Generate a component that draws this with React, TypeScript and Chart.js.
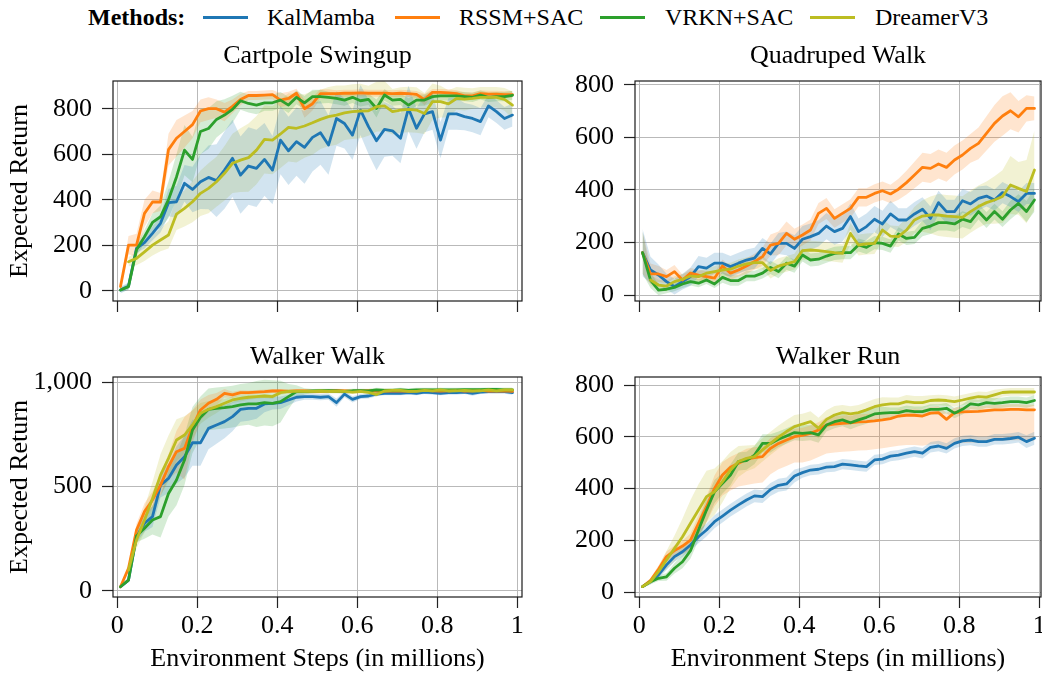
import React, { useEffect, useRef } from 'react';
import { Chart, registerables } from 'chart.js';

Chart.register(...registerables);

const FONT = "'Liberation Serif', 'Times New Roman', Times, serif";

// ---------- data ----------
const steps = [0.008,0.028,0.048,0.068,0.088,0.108,0.128,0.148,0.168,0.188,0.208,0.228,0.248,0.268,0.288,0.308,0.328,0.348,0.368,0.388,0.408,0.428,0.448,0.468,0.488,0.508,0.528,0.548,0.568,0.588,0.608,0.628,0.648,0.668,0.688,0.708,0.728,0.748,0.768,0.788,0.808,0.828,0.848,0.868,0.888,0.908,0.928,0.948,0.968,0.988];
const xTicks = [0, 0.2, 0.4, 0.6, 0.8, 1];
const xTickLabels = ['0', '0.2', '0.4', '0.6', '0.8', '1'];

const methods = ['KalMamba', 'RSSM+SAC', 'VRKN+SAC', 'DreamerV3'];
const colors = ['#1f77b4', '#ff7f0e', '#2ca02c', '#bcbd22'];

// Cartpole Swingup
const cartKal = [3,20,186,211,252,296,387,391,472,445, 479,498,484,530,582,508,548,538,577,530, 662,615,655,630,674,694,640,757,735,684, 794,721,659,709,703,670,801,714,777,787, 662,777,777,765,757,743,812,787,757,772];
const cartRssm = [18,200,200,340,390,390,620,670,700,730, 790,800,800,785,810,840,858,858,860,862, 838,845,868,800,822,866,866,866,868,868, 870,868,868,868,866,868,866,863,840,872, 872,870,866,856,856,866,864,864,862,862];
const cartVrkn = [3,18,180,237,300,325,400,500,618,577, 700,713,753,772,797,835,823,816,826,826, 838,816,850,826,853,853,850,845,838,850, 835,841,801,860,838,841,816,838,838,853, 856,856,856,853,850,860,850,853,853,859];
const cartDrm = [null,127,142,171,200,223,245,337,362,391, 428,450,479,516,560,574,585,618,665,662, 689,718,714,724,738,753,765,772,782,787, 790,791,809,812,787,794,797,794,779,831, 831,821,845,842,845,850,850,850,841,816];
const cartKalSd = [15,15,20,25,30,40,60,70,80,100, 120,140,160,170,170,170,170,170,160,150, 150,150,150,160,150,140,130,120,110,110, 110,120,130,120,110,110,100,90,80,80, 80,70,70,60,60,60,50,50,50,50];
const cartRssmSd = [10,40,50,60,50,40,70,80,70,60, 50,50,40,40,30,25,20,20,20,20, 30,30,20,40,30,20,20,15,15,15, 15,15,15,15,15,15,15,15,25,15, 15,15,15,15,15,15,15,15,15,15];
const cartVrknSd = [10,15,25,30,40,50,80,100,110,100, 100,90,80,70,60,40,40,40,35,35, 35,35,30,30,30,30,25,25,25,25, 25,25,40,25,25,25,30,25,25,25, 20,20,20,20,20,20,20,20,20,20];
const cartDrmSd = [0,20,30,40,45,50,60,70,80,90, 100,110,110,120,130,140,150,150,150,150, 150,150,150,140,140,130,130,130,120,120, 120,110,110,110,100,100,100,100,90,80, 70,60,50,50,45,45,45,45,50,60];

// Quadruped Walk
const quadKal = [162,96,77,52,33,52,71,109,103,122, 122,109,122,134,141,178,157,197,197,178, 213,223,235,263,242,254,299,242,261,289, 271,309,286,286,309,327,292,352,318,318, 359,347,368,377,362,390,375,356,387,387];
const quadRssm = [162,81,81,71,90,58,84,77,71,65, 111,84,96,111,128,147,191,197,235,213, 229,248,311,330,292,311,330,372,372,387, 397,385,403,428,457,486,482,499,486,514, 533,558,577,615,653,681,701,678,710,710];
const quadVrkn = [162,58,20,23,30,43,52,46,58,43, 68,56,56,73,73,84,106,90,122,111, 153,134,137,149,159,162,162,191,182,200, 197,187,233,216,220,254,263,276,276,271, 289,280,318,286,318,289,324,349,318,362];
const quadDrm = [null,58,39,35,52,61,73,71,84,90, 96,99,111,119,124,124,94,111,119,128, 170,172,170,166,162,159,235,191,195,197, 248,225,223,248,286,301,305,305,301,299, 296,318,337,352,362,375,419,406,394,476];
const quadKalSd = [90,50,40,30,30,30,35,40,40,40, 40,40,40,40,40,40,40,40,45,50, 50,50,50,50,50,50,50,50,50,50, 50,50,45,45,45,45,45,45,45,45, 45,45,45,40,40,40,40,40,40,40];
const quadRssmSd = [80,40,30,25,25,20,20,20,20,20, 25,25,25,30,30,35,40,45,45,40, 40,40,40,40,35,35,35,35,35,35, 35,35,40,45,50,55,55,55,55,55, 55,55,60,65,70,75,70,60,50,45];
const quadVrknSd = [80,30,20,15,15,15,15,15,15,15, 20,20,20,20,20,20,25,25,25,25, 25,25,25,25,25,25,25,25,25,25, 25,25,25,25,25,30,30,30,30,30, 30,30,30,30,30,30,35,35,40,45];
const quadDrmSd = [0,20,20,20,20,20,20,20,20,20, 25,25,25,25,25,25,30,30,30,30, 35,35,35,35,35,35,40,40,40,40, 40,40,40,45,50,60,70,80,80,80, 80,80,80,80,90,100,110,100,120,150];

// Walker Walk
const walkKal = [19,51,259,323,355,506,538,602,642,709, 709,778,794,810,834,869,874,874,895,898, 901,914,927,930,930,927,930,901,942,917, 930,933,942,946,946,946,949,946,952,949, 946,949,949,952,946,952,954,954,954,949];
const walkRssm = [19,107,291,379,435,506,594,666,682,786, 866,898,917,946,938,949,949,952,954,957, 957,955,957,957,955,955,957,958,957,955, 957,958,957,958,957,958,957,958,960,958, 957,958,960,957,958,960,957,956,958,955];
const walkVrkn = [19,51,262,299,339,355,466,530,626,770, 831,869,874,877,882,890,895,895,901,898, 906,930,954,955,957,958,958,957,955,958, 958,957,962,960,960,962,960,962,962,962, 962,962,962,963,963,963,964,964,962,962];
const walkDrm = [null,99,243,339,442,554,634,722,746,794, 850,869,882,898,914,922,927,930,933,930, 949,955,955,955,955,957,955,955,955,952, 955,950,940,957,960,960,955,955,960,958, 962,957,958,960,957,958,962,958,962,962];
const walkKalSd = [5,10,30,40,50,60,70,90,100,110, 110,100,90,80,70,60,60,50,40,30, 30,25,20,15,15,15,15,20,15,15, 12,12,10,10,10,10,10,10,10,10, 10,10,10,10,12,10,10,10,10,10];
const walkRssmSd = [5,15,30,40,40,50,60,100,150,80, 50,40,30,20,15,12,10,10,10,10, 10,10,10,10,10,10,10,10,10,10, 10,10,10,10,10,10,10,10,10,10, 10,10,10,10,10,10,10,10,10,10];
const walkVrknSd = [5,10,30,50,70,100,110,120,120,110, 100,100,100,100,100,100,100,110,110,110, 100,60,30,15,10,10,10,10,10,10, 10,10,10,10,10,10,10,10,10,10, 10,10,10,10,10,10,10,10,10,10];
const walkDrmSd = [0,20,40,60,80,100,110,100,90,70, 50,40,30,20,15,15,12,10,10,10, 10,10,10,10,10,10,10,10,10,10, 10,10,10,10,10,10,10,10,10,10, 10,10,10,10,10,10,10,10,10,10];

// Walker Run
const runKal = [21,40,66,105,137,156,182,214,240,272, 294,317,337,356,372,369,397,413,418,449, 462,472,475,483,485,495,492,488,485,511, 514,526,530,537,543,537,560,565,556,575, 585,588,582,582,591,591,594,599,582,595];
const runRssm = [21,44,88,137,160,178,201,266,330,401, 453,483,498,514,520,524,556,575,588,601, 606,614,627,646,650,653,655,658,659,662, 666,671,681,684,684,681,692,694,668,694, 697,698,699,702,705,705,707,707,705,705];
const runVrkn = [21,40,53,59,92,117,160,240,317,388, 421,453,505,508,530,575,575,591,604,617, 614,617,608,646,659,666,655,666,676,689, 692,694,694,702,698,698,707,707,711,692, 707,728,724,733,730,733,737,737,733,741];
const runDrm = [21,40,79,124,169,214,266,317,369,388, 427,472,505,517,524,550,575,599,621,640, 650,659,634,668,685,694,689,694,705,717, 724,728,728,737,733,733,741,743,741,737, 743,750,756,754,763,772,774,774,774,774];
const runKalSd = [5,10,15,20,20,20,20,25,25,25, 25,25,25,25,25,25,25,25,25,25, 20,20,20,20,20,20,20,20,20,20, 20,20,20,20,20,20,20,20,20,20, 20,20,20,20,20,20,20,20,25,25];
const runRssmUp = [5,10,15,20,20,20,25,30,40,50, 50,40,40,40,40,40,40,35,30,30, 30,30,30,30,30,30,30,30,30,30, 25,25,25,25,25,25,25,25,25,20, 20,20,20,20,20,20,20,20,20,20];
const runRssmDn = [5,10,15,20,25,30,40,50,60,70, 80,90,90,100,100,100,100,100,100,100, 105,105,105,110,110,110,110,110,110,110, 110,110,115,115,115,115,120,120,110,120, 120,120,120,120,120,120,120,120,120,120];
const runVrknSd = [5,10,10,15,20,25,30,40,45,45, 40,40,35,35,35,35,35,30,30,30, 30,30,30,25,25,25,25,25,25,25, 25,20,20,20,20,20,20,20,20,20, 20,20,20,20,20,20,20,20,20,20];
const runDrmSd = [5,10,20,35,50,70,90,100,100,90, 80,70,60,50,45,45,45,45,45,45, 40,40,40,35,35,30,30,30,30,30, 30,25,25,25,25,25,20,20,20,20, 20,20,20,20,20,15,15,15,15,15];

const yTicks800 = [0, 200, 400, 600, 800];
const yTickLabels800 = ['0', '200', '400', '600', '800'];
const yTicks1000 = [0, 500, 1000];
const yTickLabels1000 = ['0', '500', '1,000'];

type Val = number | null;
type Panel = {
  title: string;
  row: number;
  col: number;
  yMin: number;
  yMax: number;
  yTicks: number[];
  yTickLabels: string[];
  means: Val[][];
  dns: number[][];
  ups: number[][];
};

const panels: Panel[] = [
  { title: 'Cartpole Swingup', row: 0, col: 0, yMin: -45.3, yMax: 921.8, yTicks: yTicks800, yTickLabels: yTickLabels800,
    means: [cartKal, cartRssm, cartVrkn, cartDrm], dns: [cartKalSd, cartRssmSd, cartVrknSd, cartDrmSd], ups: [cartKalSd, cartRssmSd, cartVrknSd, cartDrmSd] },
  { title: 'Quadruped Walk', row: 0, col: 1, yMin: -21.7, yMax: 814, yTicks: yTicks800, yTickLabels: yTickLabels800,
    means: [quadKal, quadRssm, quadVrkn, quadDrm], dns: [quadKalSd, quadRssmSd, quadVrknSd, quadDrmSd], ups: [quadKalSd, quadRssmSd, quadVrknSd, quadDrmSd] },
  { title: 'Walker Walk', row: 1, col: 0, yMin: -30.2, yMax: 1024, yTicks: yTicks1000, yTickLabels: yTickLabels1000,
    means: [walkKal, walkRssm, walkVrkn, walkDrm], dns: [walkKalSd, walkRssmSd, walkVrknSd, walkDrmSd], ups: [walkKalSd, walkRssmSd, walkVrknSd, walkDrmSd] },
  { title: 'Walker Run', row: 1, col: 1, yMin: -19.3, yMax: 832, yTicks: yTicks800, yTickLabels: yTickLabels800,
    means: [runKal, runRssm, runVrkn, runDrm], dns: [runKalSd, runRssmDn, runVrknSd, runDrmSd], ups: [runKalSd, runRssmUp, runVrknSd, runDrmSd] },
];

// ---------- layout ----------
const FS = 26;
const COLS = [
  { x: 0, w: 530, yAxisW: 113, padR: 8, xMin: -0.01075, xMax: 1.0118 },
  { x: 530, w: 512, yAxisW: 105, padR: 1, xMin: -0.01075, xMax: 1.0043 },
];
const ROWS = [
  { y: 36, h: 285, xAxisH: 20, tTop: 4.9, tBot: 8.9 },
  { y: 336, h: 345, xAxisH: 84, tTop: 5.3, tBot: 4.5 },
];

function rgba(hex: string, a: number) {
  const n = parseInt(hex.slice(1), 16);
  return `rgba(${(n >> 16) & 255},${(n >> 8) & 255},${n & 255},${a})`;
}

const toPts = (vals: Val[]) => vals.map((v, i) => ({ x: steps[i], y: v }));

const framePlugin = {
  id: 'frame',
  afterDraw(chart: any) {
    const { ctx, chartArea: a } = chart;
    ctx.save();
    ctx.strokeStyle = '#1a1a1a';
    ctx.lineWidth = 1.2;
    ctx.strokeRect(a.left, a.top, a.right - a.left, a.bottom - a.top);
    ctx.restore();
  },
};

function makeConfig(p: Panel): any {
  const c = COLS[p.col];
  const r = ROWS[p.row];
  const showX = p.row === 1;
  const showYTitle = p.col === 0;
  const datasets: any[] = [];
  p.means.forEach((m, k) => {
    const lo = m.map((v, i) => (v == null ? null : v - p.dns[k][i]));
    const hi = m.map((v, i) => (v == null ? null : v + p.ups[k][i]));
    datasets.push({ data: toPts(lo), borderWidth: 0, borderColor: 'rgba(0,0,0,0)', pointRadius: 0, fill: false, order: 20 + k });
    datasets.push({ data: toPts(hi), borderWidth: 0, borderColor: 'rgba(0,0,0,0)', pointRadius: 0, fill: '-1', backgroundColor: rgba(colors[k], 0.2), order: 20 + k });
  });
  p.means.forEach((m, k) => {
    datasets.push({ label: methods[k], data: toPts(m), borderColor: colors[k], borderWidth: 2.8, pointRadius: 0, fill: false, order: 10 - k, borderJoinStyle: 'round', borderCapStyle: 'round' });
  });
  const font = { family: FONT, size: FS };
  return {
    type: 'line',
    data: { datasets },
    plugins: [framePlugin],
    options: {
      responsive: false,
      animation: false,
      devicePixelRatio: 1,
      events: [],
      spanGaps: false,
      elements: { line: { tension: 0 } },
      layout: { padding: { left: 0, right: c.padR, top: 0, bottom: 0 } },
      plugins: {
        legend: { display: false },
        tooltip: { enabled: false },
        title: { display: true, text: p.title, fullSize: false, color: '#000', font: { family: FONT, size: FS, weight: 'normal' }, padding: { top: r.tTop, bottom: r.tBot } },
      },
      scales: {
        x: {
          type: 'linear', min: c.xMin, max: c.xMax,
          afterBuildTicks: (s: any) => { s.ticks = xTicks.map((v) => ({ value: v })); },
          afterFit: (s: any) => { s.height = r.xAxisH; s.paddingLeft = 0; s.paddingRight = 0; },
          grid: { color: '#b9b9b9', lineWidth: 1, drawTicks: true, tickLength: 11, tickColor: '#222', tickWidth: 1.2 },
          border: { display: false },
          ticks: { display: showX, padding: 2.6, color: '#000', font, maxRotation: 0, autoSkip: false, callback: (_v: any, i: number) => xTickLabels[i] },
          title: { display: showX, text: 'Environment Steps (in millions)', color: '#000', font, padding: { top: 0, bottom: 5.9 } },
        },
        y: {
          type: 'linear', min: p.yMin, max: p.yMax,
          afterBuildTicks: (s: any) => { s.ticks = p.yTicks.map((v) => ({ value: v })); },
          afterFit: (s: any) => { s.width = c.yAxisW; s.paddingTop = 0; s.paddingBottom = 0; },
          grid: { color: '#b9b9b9', lineWidth: 1, drawTicks: true, tickLength: 11, tickColor: '#222', tickWidth: 1.2 },
          border: { display: false },
          ticks: { padding: 10, color: '#000', font, autoSkip: false, callback: (_v: any, i: number) => p.yTickLabels[i] },
          title: { display: showYTitle, text: 'Expected Return', color: '#000', font, padding: { top: 4.5, bottom: 0 } },
        },
      },
    },
  };
}

function PanelChart({ p }: { p: Panel }) {
  const ref = useRef<HTMLCanvasElement>(null);
  useEffect(() => {
    const chart = new Chart(ref.current as HTMLCanvasElement, makeConfig(p));
    return () => chart.destroy();
  }, [p]);
  const c = COLS[p.col];
  const r = ROWS[p.row];
  return (
    <canvas
      ref={ref}
      width={c.w}
      height={r.h}
      style={{ position: 'absolute', left: c.x, top: r.y, width: c.w, height: r.h, display: 'block' }}
    />
  );
}

const legendPos = [
  { line: 203, text: 267 },
  { line: 395, text: 459 },
  { line: 600, text: 665 },
  { line: 810, text: 875 },
];

export default function App() {
  const textStyle: React.CSSProperties = { position: 'absolute', top: 0, lineHeight: '34px', fontSize: 24, fontFamily: FONT, color: '#000', whiteSpace: 'nowrap' };
  return (
    <div style={{ position: 'absolute', left: 0, top: 0, width: 1042, height: 681, overflow: 'hidden', background: '#fff' }}>
      <span style={{ ...textStyle, left: 88, fontWeight: 'bold' }}>Methods:</span>
      {methods.map((m, k) => (
        <React.Fragment key={m}>
          <div style={{ position: 'absolute', left: legendPos[k].line, top: 15.5, width: 45, height: 3, background: colors[k] }} />
          <span style={{ ...textStyle, left: legendPos[k].text }}>{m}</span>
        </React.Fragment>
      ))}
      {panels.map((p) => (
        <PanelChart key={p.title} p={p} />
      ))}
    </div>
  );
}
